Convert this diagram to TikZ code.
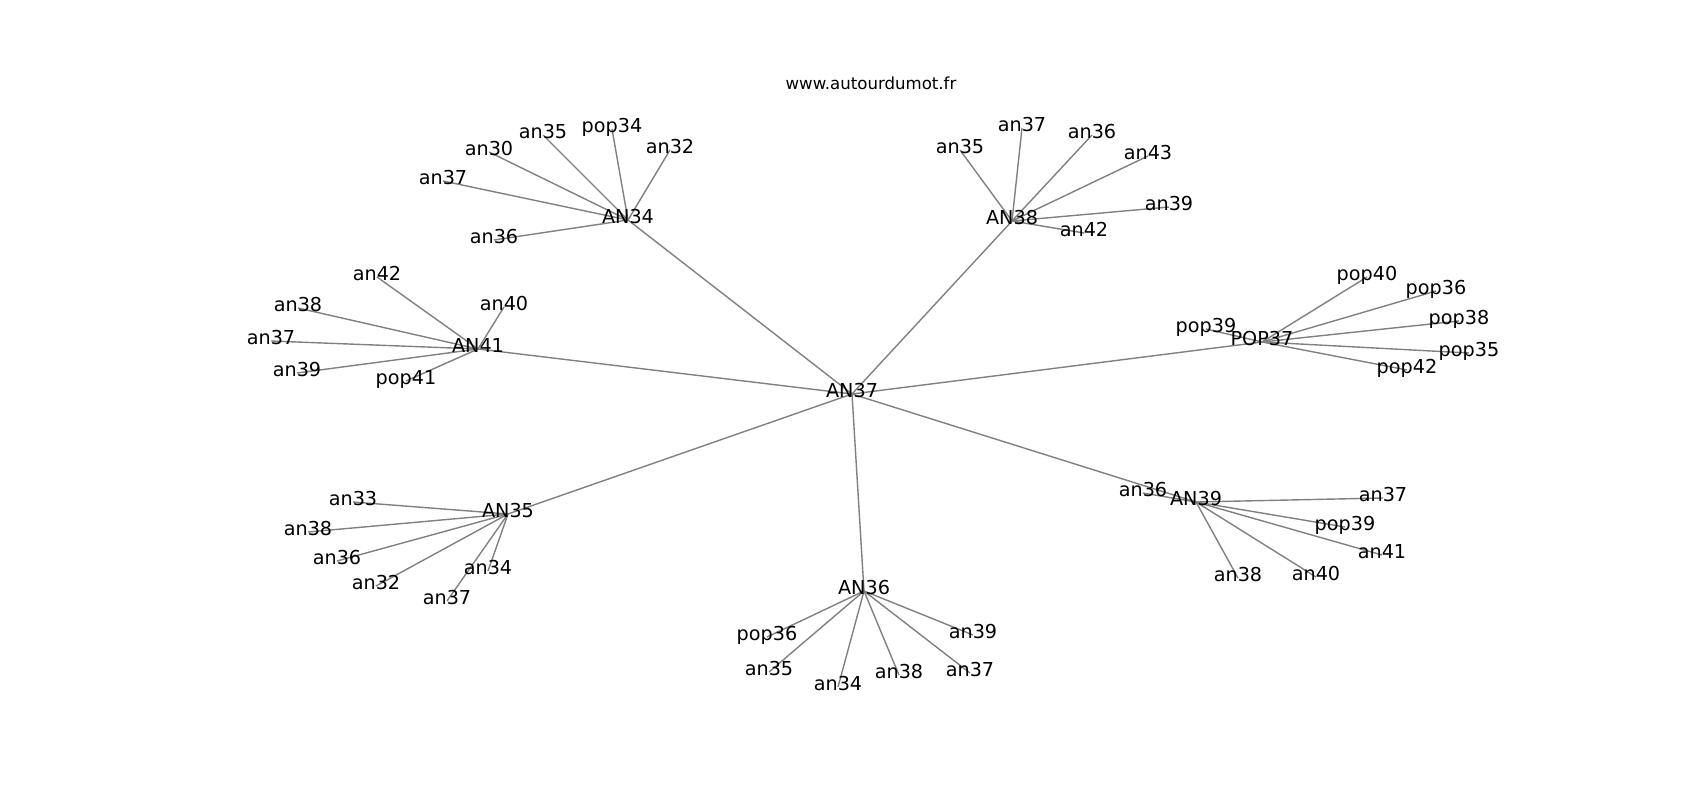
\documentclass[tikz,border=0pt]{standalone}
\usepackage{fontspec}
\setmainfont{DejaVu Sans}
\usepackage{tikz}
\usetikzlibrary{positioning,backgrounds}

\begin{document}
\begin{tikzpicture}[
    x=1pt, y=-1pt,
    outer sep=0pt,
    lab/.style={inner sep=0pt, text height=0.84em, text depth=0.21em, font=\fontsize{19.2pt}{23pt}\selectfont},
    edge/.style={draw=black!50, line width=1.4pt}
]
    \useasboundingbox (0,0) rectangle (1700,800);
    \node [inner sep=0pt, font=\fontsize{16.6pt}{19pt}\selectfont] (title) at (871,83) {www.autourdumot.fr};

    \begin{scope}[yshift=-4pt]
    % centre
    \node [lab] (AN37) at (852,390) {AN37};

    % AN34
    \node [lab] (AN34) at (628,216) {AN34};
    \node [lab] (AN34an37) at (443,177) {an37};
    \node [lab] (AN34an30) at (489,148) {an30};
    \node [lab] (AN34an35) at (543,131) {an35};
    \node [lab] (AN34pop34) at (612,125) {pop34};
    \node [lab] (AN34an32) at (670,146) {an32};
    \node [lab] (AN34an36) at (494,236) {an36};

    % AN38
    \node [lab] (AN38) at (1012,217) {AN38};
    \node [lab] (AN38an35) at (960,146) {an35};
    \node [lab] (AN38an37) at (1022,124) {an37};
    \node [lab] (AN38an36) at (1092,131) {an36};
    \node [lab] (AN38an43) at (1148,152) {an43};
    \node [lab] (AN38an39) at (1169,203) {an39};
    \node [lab] (AN38an42) at (1084,229) {an42};

    % AN41
    \node [lab] (AN41) at (478,345) {AN41};
    \node [lab] (AN41an42) at (377,273) {an42};
    \node [lab] (AN41an38) at (298,304) {an38};
    \node [lab] (AN41an40) at (504,303) {an40};
    \node [lab] (AN41an37) at (271,337) {an37};
    \node [lab] (AN41an39) at (297,369) {an39};
    \node [lab] (AN41pop41) at (406,377) {pop41};

    % POP37
    \node [lab] (POP37) at (1262,338) {POP37};
    \node [lab] (POP37pop39) at (1206,325) {pop39};
    \node [lab] (POP37pop40) at (1367,273) {pop40};
    \node [lab] (POP37pop36) at (1436,287) {pop36};
    \node [lab] (POP37pop38) at (1459,317) {pop38};
    \node [lab] (POP37pop35) at (1469,349) {pop35};
    \node [lab] (POP37pop42) at (1407,366) {pop42};

    % AN35
    \node [lab] (AN35) at (508,510) {AN35};
    \node [lab] (AN35an33) at (353,498) {an33};
    \node [lab] (AN35an38) at (308,528) {an38};
    \node [lab] (AN35an36) at (337,557) {an36};
    \node [lab] (AN35an32) at (376,582) {an32};
    \node [lab] (AN35an34) at (488,567) {an34};
    \node [lab] (AN35an37) at (447,597) {an37};

    % AN36
    \node [lab] (AN36) at (864,587) {AN36};
    \node [lab] (AN36pop36) at (767,633) {pop36};
    \node [lab] (AN36an35) at (769,668) {an35};
    \node [lab] (AN36an34) at (838,683) {an34};
    \node [lab] (AN36an38) at (899,671) {an38};
    \node [lab] (AN36an39) at (973,631) {an39};
    \node [lab] (AN36an37) at (970,669) {an37};

    % AN39
    \node [lab] (AN39) at (1196,498) {AN39};
    \node [lab] (AN39an36) at (1143,489) {an36};
    \node [lab] (AN39an37) at (1383,494) {an37};
    \node [lab] (AN39pop39) at (1345,523) {pop39};
    \node [lab] (AN39an41) at (1382,551) {an41};
    \node [lab] (AN39an38) at (1238,574) {an38};
    \node [lab] (AN39an40) at (1316,573) {an40};
    \end{scope}

    \begin{pgfonlayer}{background}
    \foreach \hub in {AN34,AN38,AN41,POP37,AN35,AN36,AN39}
        \draw [edge] (AN37.center) -- (\hub.center);
    \foreach \leaf in {an37,an30,an35,pop34,an32,an36}
        \draw [edge] (AN34.center) -- (AN34\leaf.center);
    \foreach \leaf in {an35,an37,an36,an43,an39,an42}
        \draw [edge] (AN38.center) -- (AN38\leaf.center);
    \foreach \leaf in {an42,an38,an40,an37,an39,pop41}
        \draw [edge] (AN41.center) -- (AN41\leaf.center);
    \foreach \leaf in {pop39,pop40,pop36,pop38,pop35,pop42}
        \draw [edge] (POP37.center) -- (POP37\leaf.center);
    \foreach \leaf in {an33,an38,an36,an32,an34,an37}
        \draw [edge] (AN35.center) -- (AN35\leaf.center);
    \foreach \leaf in {pop36,an35,an34,an38,an39,an37}
        \draw [edge] (AN36.center) -- (AN36\leaf.center);
    \foreach \leaf in {an36,an37,pop39,an41,an38,an40}
        \draw [edge] (AN39.center) -- (AN39\leaf.center);
    \end{pgfonlayer}
\end{tikzpicture}
\end{document}
